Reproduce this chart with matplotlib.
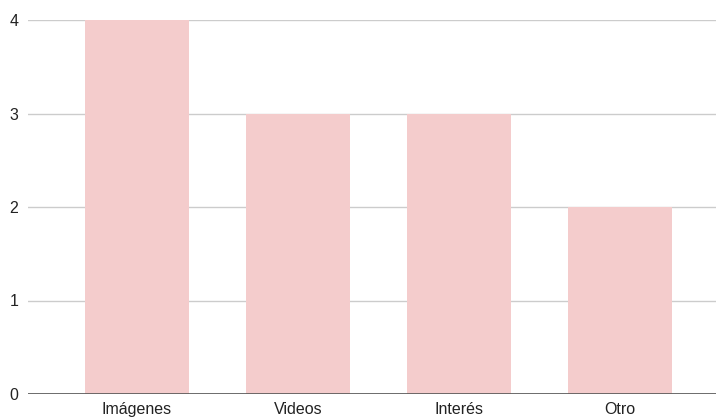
import matplotlib.pyplot as plt
import numpy as np

plt.rcParams['font.family'] = ['Liberation Sans', 'DejaVu Sans']

categories = ['Imágenes', 'Videos', 'Interés', 'Otro']
values = [4, 3, 3, 2]
y_ticks = [0, 1, 2, 3, 4]

fig = plt.figure(figsize=(7.16, 4.17), dpi=100)
ax = fig.add_axes([28 / 716, 23 / 417, 688 / 716, 374 / 417])

x = np.arange(len(categories))
ax.bar(x, values, width=0.646, color='#f4cccc', zorder=2)

ax.set_xlim(-0.677, 3.596)
ax.set_ylim(0, 4)
ax.set_yticks(y_ticks)
ax.set_xticks(x)
ax.set_xticklabels(categories)

ax.grid(axis='y', color='#cccccc', linewidth=1, zorder=0)
ax.axhline(0, color='#555555', linewidth=1.2, zorder=3)
for s in ax.spines.values():
    s.set_visible(False)
ax.tick_params(axis='both', length=0, labelsize=11.5, colors='#222222')
ax.tick_params(axis='y', pad=7)
ax.tick_params(axis='x', pad=6)

fig.savefig('out.png', dpi=100)
